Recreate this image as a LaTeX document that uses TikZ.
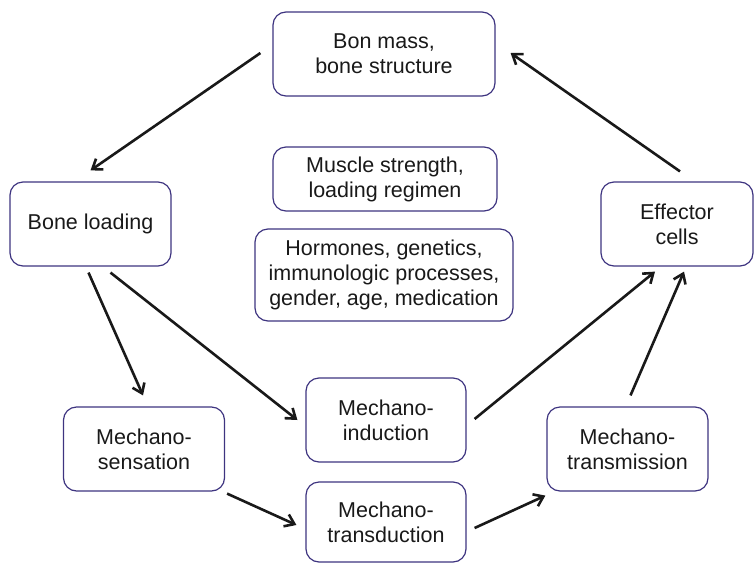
\documentclass[tikz,border=0pt]{standalone}
\usepackage{fontspec}
\setmainfont{Liberation Sans}
\usetikzlibrary{arrows.meta,calc}
\definecolor{boxline}{RGB}{62,52,128}
\definecolor{inktext}{RGB}{25,25,25}
\begin{document}
\begin{tikzpicture}[x=1pt,y=-1pt,
  box/.style={draw=boxline,line width=1.2pt,rounded corners=13pt,
    align=center,inner sep=0pt,text=inktext,
    font=\fontsize{21.5}{25}\selectfont},
  arr/.style={draw=black!90,line width=2.6pt,
    -{Straight Barb[length=9pt,width=13pt,line width=2.6pt]}}]
\useasboundingbox (0,0) rectangle (755,563);

% boxes
\node[box,minimum width=222pt,minimum height=84pt] (bon) at (384,54) {Bon mass,\\bone structure};
\node[box,minimum width=161pt,minimum height=84pt] (bl) at (90.5,224) {Bone loading};
\node[box,minimum width=224pt,minimum height=64pt] (mus) at (385,179) {Muscle strength,\\loading regimen};
\node[box,minimum width=258pt,minimum height=92pt] (hor) at (384,275) {Hormones, genetics,\\immunologic processes,\\gender, age, medication};
\node[box,minimum width=152pt,minimum height=84pt] (eff) at (677,224) {Effector\\cells};
\node[box,minimum width=161pt,minimum height=84pt] (sens) at (144,449) {Mechano-\\sensation};
\node[box,minimum width=160pt,minimum height=84pt] (ind) at (386,420) {Mechano-\\induction};
\node[box,minimum width=160pt,minimum height=80pt] (trd) at (386,522) {Mechano-\\transduction};
\node[box,minimum width=161pt,minimum height=84pt] (trm) at (627.5,449) {Mechano-\\transmission};

% connectors
\draw[arr] ($(bon.west)+(-12,-1)$) -- ($(bl.north)+(0,-11)$);
\draw[arr] ($(eff.north)+(3,-10)$) -- ($(bon.east)+(15,-1)$);
\draw[arr] ($(bl.south)+(-2,6)$) -- ($(sens.north)+(-1,-11)$);
\draw[arr] ($(bl.south)+(20,6)$) -- ($(ind.west)+(-8,0)$);
\draw[arr] ($(sens.south east)+(2,2)$) -- ($(trd.west)+(-9,3)$);
\draw[arr] ($(trd.east)+(8,6)$) -- ($(trm.south west)+(-1,4)$);
\draw[arr] ($(ind.east)+(8,-1)$) -- ($(eff.south)+(-22,5)$);
\draw[arr] ($(trm.north)+(3,-11)$) -- ($(eff.south)+(7,5)$);
\end{tikzpicture}
\end{document}
